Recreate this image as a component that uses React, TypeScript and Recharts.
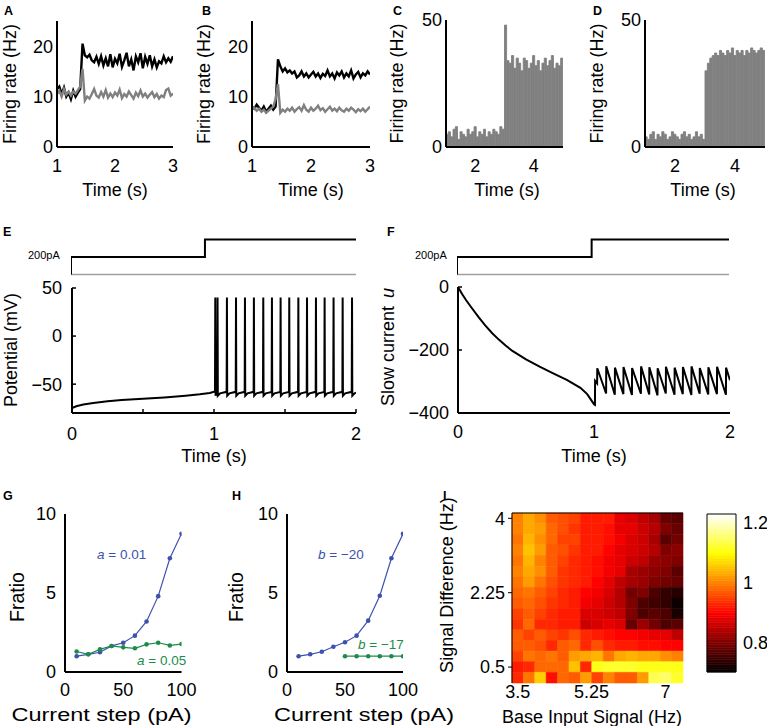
import React from "react";
import {
  LineChart,
  Line,
  BarChart,
  Bar,
  ComposedChart,
  Scatter,
  XAxis,
  YAxis,
  ReferenceLine,
  ReferenceArea,
} from "recharts";

const FONT = "'Liberation Sans', Arial, Helvetica, sans-serif";
const INK = "#000000";
const GRAY = "#808080";
const STIM_GRAY = "#a0a0a0";
const BLUE = "#3e52ad";
const GREEN = "#1e8b4b";

// ---------- A, B: population rate, one sample every 0.04 s from 1 s
const RATE_T0 = 1;
const RATE_DT = 0.04;
const rateA_excited = [
  11.5, 12.0, 10.5, 11.8, 10.0, 10.8, 9.5, 11.2, 10.0, 10.8,
  11.5, 20.5, 18.2, 17.8, 18.3, 17.2, 16.8, 17.9, 16.5, 18.0,
  16.2, 17.6, 16.0, 18.4, 15.8, 17.5, 16.6, 18.5, 15.9, 17.2,
  18.7, 16.0, 17.4, 15.2, 18.0, 16.8, 18.6, 15.6, 17.9, 16.5,
  18.2, 16.0, 17.4, 15.8, 17.0, 16.6, 18.0, 16.8, 17.6, 16.9, 18.0,
];
const rateA_other = [
  10.5, 11.2, 10.0, 11.5, 10.4, 11.0, 10.2, 11.0, 10.6, 11.3,
  12.0, 15.5, 9.2, 10.0, 9.6, 10.5, 11.5, 10.2, 9.8, 10.9,
  10.0, 11.3, 9.8, 10.6, 9.9, 10.8, 10.2, 11.4, 9.7, 10.5,
  10.0, 11.0, 10.3, 9.6, 10.8, 10.1, 11.2, 10.0, 10.6, 9.8,
  10.4, 10.9, 9.9, 10.5, 9.6, 10.2, 9.9, 11.3, 11.6, 10.2, 10.6,
];
const rateB_excited = [
  8.0, 7.6, 8.4, 7.8, 7.2, 8.0, 7.0, 7.6, 8.2, 7.4,
  8.0, 17.4, 16.0, 15.0, 15.6, 14.8, 15.2, 14.6, 15.0, 13.8,
  14.2, 15.0, 14.0, 14.6, 13.8, 14.4, 14.9, 14.0, 14.6, 13.7,
  14.5, 14.1, 15.2, 14.0, 14.6, 13.6, 14.8, 14.2, 15.0, 13.8,
  14.6, 14.0, 15.2, 13.6, 14.4, 14.9, 13.8, 14.6, 14.2, 15.0, 14.4,
];
const rateB_other = [
  7.4, 7.8, 7.2, 7.6, 7.0, 7.4, 6.8, 7.2, 7.6, 8.0,
  9.5, 12.5, 6.8, 7.4, 7.0, 7.6, 7.2, 7.8, 7.0, 7.5,
  7.9, 7.2, 8.3, 7.4, 7.0, 7.8, 7.2, 7.6, 8.2, 7.3,
  7.7, 7.0, 7.5, 8.0, 7.2, 7.6, 7.1, 7.8, 7.3, 7.0,
  7.6, 7.2, 7.8, 7.4, 6.9, 7.5, 7.1, 7.6, 7.0, 7.5, 8.0,
];

// ---------- C, D: histograms, 0.08 s bins from 1 s to 5 s
const PSTH_T0 = 1;
const PSTH_BIN = 0.08;
const psthC = [
  5, 6, 4, 7, 8, 3, 6, 5, 4, 7, 5, 6, 8, 4, 6, 5, 7, 4, 6, 5, 7, 6, 5, 8, 7,
  48, 34, 33, 36, 31, 35, 33, 30, 35, 34, 31, 33, 36, 32, 34, 30, 33, 35, 32, 34, 36, 31, 33, 32, 35,
];
const psthD = [
  4, 3, 5, 6, 3, 5, 4, 6, 5, 3, 4, 6, 5, 4, 3, 5, 6, 4, 5, 3, 4, 6, 4, 5, 3,
  30, 33, 35, 36, 37, 36, 38, 37, 36, 38, 37, 39, 36, 38, 37, 38, 36, 38, 37, 39, 38, 37, 38, 39, 38,
];

// ---------- E, F: current step and neuron response
const stimLevel = [0, 1, 1, 2, 2];
const stimE_t = [0, 0, 0.94, 0.94, 2];
const stimF_t = [0, 0, 0.99, 0.99, 2];

const spikeT = [
  1.007, 1.023, 1.089, 1.153, 1.216, 1.279, 1.345, 1.406, 1.467,
  1.528, 1.592, 1.653, 1.716, 1.777, 1.84, 1.904, 1.97,
];
const vRampT = [0, 0.03, 0.08, 0.15, 0.25, 0.35, 0.5, 0.65, 0.8, 0.9, 0.97, 1.0];
const vRampV = [-75, -73, -71.2, -69.5, -67.8, -66.6, -65.3, -63.8, -62, -60.6, -59.2, -58];
const V_THRESH = -58;
const V_PEAK = 40;
const V_RESET = -62;
const V_RECOVER = -59.5;
const V_END = -59;

const uRampT = [0, 0.03, 0.06, 0.1, 0.15, 0.2, 0.25, 0.3, 0.35, 0.4, 0.5, 0.6, 0.7, 0.8, 0.9, 0.95, 1.0];
const uRampV = [0, -22, -42, -66, -95, -122, -146, -167, -186, -203, -230, -253, -274, -295, -320, -340, -372];
const uTrough = [-374, -306, -338, -342, -340, -343, -339, -341, -344, -338, -342, -340, -343, -339, -341, -340, -342];
const uPeak = [-298, -258, -252, -256, -254, -257, -252, -255, -258, -253, -256, -254, -252, -257, -255, -253, -256];
const U_END = -296;

// ---------- G, H: F ratio vs current step
const currentStep = [10, 20, 30, 40, 50, 60, 70, 80, 90, 100];
const fratioA001 = [1.0, 1.12, 1.25, 1.65, 1.85, 2.3, 3.2, 4.8, 7.2, 8.75];
const fratioA005 = [1.3, 1.12, 1.43, 1.65, 1.56, 1.5, 1.75, 1.85, 1.68, 1.77];
const fratioB20 = [1.0, 1.12, 1.28, 1.6, 1.88, 2.3, 3.25, 4.83, 7.2, 8.75];
const fratioB17 = [null, null, null, null, 1.0, 1.0, 1.0, 1.0, 1.0, 1.0];

// ---------- I: heat map
const baseInput = [3.5, 3.77, 4.04, 4.31, 4.58, 4.85, 5.12, 5.39, 5.66, 5.93, 6.2, 6.47, 6.74, 7.01, 7.28];
const signalDiff = [4, 3.75, 3.5, 3.25, 3, 2.75, 2.5, 2.25, 2, 1.75, 1.5, 1.25, 1, 0.75, 0.5, 0.25];
const ratioGrid = [
  [1.0, 1.03, 1.01, 0.97, 0.96, 0.95, 0.92, 0.92, 0.92, 0.88, 0.87, 0.85, 0.83, 0.78, 0.77],
  [1.0, 1.03, 1.02, 0.98, 0.96, 0.94, 0.92, 0.92, 0.91, 0.88, 0.88, 0.86, 0.84, 0.8, 0.78],
  [0.99, 1.04, 1.01, 0.98, 0.95, 0.95, 0.92, 0.92, 0.91, 0.89, 0.87, 0.86, 0.83, 0.77, 0.79],
  [1.0, 1.05, 1.02, 0.97, 0.96, 0.94, 0.92, 0.92, 0.9, 0.88, 0.87, 0.86, 0.84, 0.8, 0.81],
  [0.99, 1.04, 1.0, 0.97, 0.95, 0.93, 0.92, 0.91, 0.89, 0.88, 0.86, 0.85, 0.82, 0.81, 0.8],
  [1.0, 1.03, 1.01, 0.97, 0.94, 0.93, 0.92, 0.91, 0.89, 0.88, 0.83, 0.82, 0.81, 0.8, 0.77],
  [0.99, 1.02, 0.99, 0.96, 0.94, 0.93, 0.92, 0.9, 0.88, 0.85, 0.83, 0.82, 0.8, 0.79, 0.78],
  [0.98, 0.99, 0.97, 0.95, 0.93, 0.92, 0.9, 0.89, 0.87, 0.84, 0.79, 0.8, 0.76, 0.74, 0.73],
  [0.97, 0.98, 0.96, 0.94, 0.93, 0.92, 0.89, 0.88, 0.86, 0.84, 0.8, 0.76, 0.75, 0.74, 0.71],
  [0.95, 0.97, 0.95, 0.93, 0.92, 0.92, 0.87, 0.87, 0.86, 0.85, 0.8, 0.76, 0.77, 0.76, 0.72],
  [0.94, 0.98, 0.93, 0.93, 0.92, 0.92, 0.86, 0.87, 0.88, 0.87, 0.78, 0.82, 0.79, 0.76, 0.77],
  [0.97, 0.95, 0.97, 0.95, 0.94, 0.96, 0.93, 0.92, 0.91, 0.9, 0.9, 0.89, 0.88, 0.88, 0.85],
  [0.97, 0.97, 0.96, 0.93, 0.97, 0.98, 0.93, 0.96, 0.93, 0.92, 0.92, 0.91, 0.91, 0.9, 0.9],
  [0.95, 0.99, 0.98, 0.99, 0.97, 1.02, 1.03, 1.04, 0.99, 1.03, 1.04, 1.03, 1.03, 1.01, 1.0],
  [0.92, 0.93, 0.98, 0.98, 0.98, 1.05, 0.93, 1.11, 1.12, 1.12, 1.12, 1.11, 1.11, 1.11, 1.11],
  [0.93, 0.99, 1.06, 0.91, 0.98, 0.97, 1.02, 0.95, 1.0, 0.97, 0.97, 1.02, 1.14, 1.15, 1.12],
];
const CMIN = 0.7;
const CMAX = 1.23;
const colorTicks = [0.8, 1, 1.2];

// ---------- derived rows
const rateRows = (excited: number[], other: number[]) =>
  excited.map((v, i) => ({ t: RATE_T0 + i * RATE_DT, excited: v, other: other[i] }));
const psthRows = (vals: number[]) => vals.map((v, i) => ({ t: PSTH_T0 + (i + 0.5) * PSTH_BIN, rate: v }));
const stimRows = (ts: number[]) => ts.map((t, i) => ({ t, level: stimLevel[i] }));

const vTrace: { t: number; v: number }[] = vRampT.map((t, i) => ({ t, v: vRampV[i] }));
spikeT.forEach((s, k) => {
  vTrace.push({ t: s, v: V_THRESH }, { t: s + 0.002, v: V_PEAK }, { t: s + 0.004, v: V_RESET });
  const next = spikeT[k + 1] ?? 2;
  if (next - s > 0.03) vTrace.push({ t: s + 0.02, v: V_RECOVER });
});
vTrace.push({ t: 2, v: V_END });

const uTrace: { t: number; u: number }[] = uRampT.map((t, i) => ({ t, u: uRampV[i] }));
spikeT.forEach((s, k) => {
  uTrace.push({ t: s, u: uTrough[k] }, { t: s + 0.001, u: uPeak[k] });
});
uTrace.push({ t: 2, u: U_END });

const gRows = currentStep.map((x, i) => ({ x, low: fratioA001[i], high: fratioA005[i] }));
const hRows = currentStep.map((x, i) => ({ x, low: fratioB20[i], high: fratioB17[i] }));

const cells = signalDiff.flatMap((y, r) => baseInput.map((x, c) => ({ x, y, v: ratioGrid[r][c] })));
const HALF_X = (baseInput[1] - baseInput[0]) / 2;
const HALF_Y = (signalDiff[0] - signalDiff[1]) / 2;

const clamp01 = (x: number) => Math.max(0, Math.min(1, x));
function hot(v: number) {
  const t = clamp01((v - CMIN) / (CMAX - CMIN));
  const h = (c: number) => Math.round(clamp01(c) * 255).toString(16).padStart(2, "0");
  return `#${h(t / 0.375)}${h((t - 0.375) / 0.375)}${h((t - 0.75) / 0.25)}`;
}
// colour bar strips: the colormap itself, 64 levels
const BAR_STEPS = 64;
const barStrips = Array.from({ length: BAR_STEPS }, (_, i) => {
  const lo = CMIN + ((CMAX - CMIN) * i) / BAR_STEPS;
  const hi = CMIN + ((CMAX - CMIN) * (i + 1)) / BAR_STEPS;
  return { lo, hi, color: hot((lo + hi) / 2) };
});
const barFrame = [{ x: 0, y: CMIN }, { x: 1, y: CMAX }];

// ---------- layout helpers
type Geo = { x0: number; y0: number; x1: number; y1: number; l: number; t: number; r: number; b: number };
const geo = (x0: number, y0: number, x1: number, y1: number, l = 90, t = 12, r = 14, b = 64): Geo => ({
  x0, y0, x1, y1, l, t, r, b,
});
const chartW = (g: Geo) => g.x1 - g.x0 + g.l + g.r;
const chartH = (g: Geo) => g.y1 - g.y0 + g.t + g.b;
const at = (g: Geo): React.CSSProperties => ({ position: "absolute", left: g.x0 - g.l, top: g.y0 - g.t });
const axisMargin = (g: Geo) => ({ top: g.t, right: g.r, left: 0, bottom: 0 });
const bareMargin = (g: Geo) => ({ top: g.t, right: g.r, left: g.l, bottom: g.b });

const tickFont = (size = 18) => ({ fill: INK, fontSize: size, fontFamily: FONT });
const THICK = { stroke: INK, strokeWidth: 2 };
const minus = (v: number) => String(v).replace("-", "\u2212");

function yTitle(g: Geo, cx: number, cy: number, body: React.ReactNode, size = 18, len?: number) {
  return () => {
    const x = cx - (g.x0 - g.l);
    const y = cy - (g.y0 - g.t);
    return (
      <text x={x} y={y} transform={`rotate(-90 ${x} ${y})`} textAnchor="middle" dominantBaseline="central"
        textLength={len} lengthAdjust={len ? "spacingAndGlyphs" : undefined}
        style={{ fontFamily: FONT, fontSize: size, fill: INK }}>
        {body}
      </text>
    );
  };
}
function xTitle(g: Geo, cx: number, cy: number, body: React.ReactNode, size = 18, len?: number) {
  return () => (
    <text x={cx - (g.x0 - g.l)} y={cy - (g.y0 - g.t)} textAnchor="middle" dominantBaseline="central"
      textLength={len} lengthAdjust={len ? "spacingAndGlyphs" : undefined}
      style={{ fontFamily: FONT, fontSize: size, fill: INK }}>
      {body}
    </text>
  );
}

const Note = ({ x, y, size = 13, bold = false, color = INK, children }: {
  x: number; y: number; size?: number; bold?: boolean; color?: string; children: React.ReactNode;
}) => (
  <div style={{
    position: "absolute", left: x, top: y, fontSize: size, lineHeight: `${size}px`,
    fontWeight: bold ? 700 : 400, color, fontFamily: FONT, whiteSpace: "nowrap",
  }}>
    {children}
  </div>
);

// ---------- panels
function RatePanel({ g, rows, yx, xx }: { g: Geo; rows: any[]; yx: number; xx: number }) {
  return (
    <div style={at(g)}>
      <LineChart width={chartW(g)} height={chartH(g)} margin={axisMargin(g)} data={rows}>
        <XAxis type="number" dataKey="t" domain={[1, 3]} ticks={[1, 2, 3]} allowDataOverflow interval={0}
          axisLine={THICK} tickLine={false} tickSize={0} tickMargin={12} tick={tickFont()} height={g.b}
          label={xTitle(g, xx, 190, "Time (s)")} />
        <YAxis type="number" domain={[0, 25]} ticks={[0, 10, 20]} allowDataOverflow interval={0}
          axisLine={THICK} tickLine={false} tickSize={0} tickMargin={4} tick={tickFont()} width={g.l}
          label={yTitle(g, yx, (g.y0 + g.y1) / 2, "Firing rate (Hz)")} />
        <Line dataKey="excited" type="linear" stroke={INK} strokeWidth={2.4} dot={false} isAnimationActive={false} />
        <Line dataKey="other" type="linear" stroke={GRAY} strokeWidth={2.4} dot={false} isAnimationActive={false} />
      </LineChart>
    </div>
  );
}

function PsthPanel({ g, rows, yx, xx }: { g: Geo; rows: any[]; yx: number; xx: number }) {
  const barPx = ((g.x1 - g.x0) / 4) * PSTH_BIN + 0.5;
  return (
    <div style={at(g)}>
      <BarChart width={chartW(g)} height={chartH(g)} margin={axisMargin(g)} data={rows} barCategoryGap={0} barGap={0}>
        <XAxis type="number" dataKey="t" domain={[1, 5]} ticks={[2, 4]} allowDataOverflow interval={0}
          axisLine={THICK} tickLine={false} tickSize={0} tickMargin={12} tick={tickFont()} height={g.b}
          label={xTitle(g, xx, 190, "Time (s)")} />
        <YAxis type="number" domain={[0, 50]} ticks={[0, 50]} allowDataOverflow interval={0}
          axisLine={THICK} tickLine={false} tickSize={0} tickMargin={4} tick={tickFont()} width={g.l}
          label={yTitle(g, yx, (g.y0 + g.y1) / 2, "Firing rate (Hz)")} />
        <Bar dataKey="rate" fill={GRAY} stroke={GRAY} strokeWidth={0.9} barSize={barPx} isAnimationActive={false} />
      </BarChart>
    </div>
  );
}

function StimPanel({ g, rows }: { g: Geo; rows: any[] }) {
  return (
    <div style={at(g)}>
      <LineChart width={chartW(g)} height={chartH(g)} margin={bareMargin(g)} data={rows}>
        <XAxis type="number" dataKey="t" domain={[0, 2]} hide allowDataOverflow />
        <YAxis type="number" domain={[-0.2, 2.2]} hide allowDataOverflow />
        <ReferenceLine y={0} stroke={STIM_GRAY} strokeWidth={1.6} />
        <Line dataKey="level" type="linear" stroke={INK} strokeWidth={2} dot={false} isAnimationActive={false} />
      </LineChart>
    </div>
  );
}

function FratioPanel({ g, rows, yx, xx }: { g: Geo; rows: any[]; yx: number; xx: number }) {
  return (
    <div style={at(g)}>
      <LineChart width={chartW(g)} height={chartH(g)} margin={axisMargin(g)} data={rows}>
        <XAxis type="number" dataKey="x" domain={[0, 100]} ticks={[0, 50, 100]} allowDataOverflow interval={0}
          axisLine={THICK} tickLine={false} tickSize={0} tickMargin={11} tick={tickFont()} height={g.b}
          label={xTitle(g, xx, 715, "Current step (pA)", 18, 180)} />
        <YAxis type="number" domain={[0, 10]} ticks={[0, 5, 10]} allowDataOverflow interval={0}
          axisLine={THICK} tickLine={false} tickSize={0} tickMargin={9} tick={tickFont()} width={g.l}
          label={yTitle(g, yx, 597, "Fratio", 21, 50)} />
        <Line dataKey="low" type="linear" stroke={BLUE} strokeWidth={1.2} isAnimationActive={false}
          dot={{ r: 2.3, fill: BLUE, stroke: BLUE, strokeWidth: 0 }} />
        <Line dataKey="high" type="linear" stroke={GREEN} strokeWidth={1.2} isAnimationActive={false}
          dot={{ r: 2.3, fill: GREEN, stroke: GREEN, strokeWidth: 0 }} />
      </LineChart>
    </div>
  );
}

const gA = geo(57, 21, 173, 147);
const gB = geo(252, 21, 370, 147);
const gC = geo(446, 20, 563, 147);
const gD = geo(645, 20, 765, 147);
const gEs = geo(71, 235.5, 356, 277.5, 10, 6, 6, 6);
const gE = geo(72, 288, 356, 413);
const gFs = geo(457, 235.5, 729, 277.5, 10, 6, 6, 6);
const gF = geo(458, 287, 730, 413);
const gG = geo(64.5, 514, 181, 672, 90, 12, 40, 64);
const gH = geo(287, 514, 403, 672, 90, 12, 70, 64);
const gI = geo(512, 513, 683, 683, 90, 40, 14, 64);
const gBar = geo(707, 514, 736, 672, 6, 6, 40, 6);

export default function App() {
  return (
    <div style={{
      position: "absolute", left: 0, top: 0, width: 767, height: 726,
      overflow: "hidden", background: "#fff", fontFamily: FONT,
    }}>
      <RatePanel g={gA} rows={rateRows(rateA_excited, rateA_other)} yx={10} xx={115} />
      <RatePanel g={gB} rows={rateRows(rateB_excited, rateB_other)} yx={204} xx={311} />
      <PsthPanel g={gC} rows={psthRows(psthC)} yx={397} xx={507} />
      <PsthPanel g={gD} rows={psthRows(psthD)} yx={597} xx={703} />

      <StimPanel g={gEs} rows={stimRows(stimE_t)} />
      <div style={at(gE)}>
        <LineChart width={chartW(gE)} height={chartH(gE)} margin={axisMargin(gE)} data={vTrace}>
          <XAxis type="number" dataKey="t" domain={[0, 2]} ticks={[0, 0.5, 1, 1.5, 2]} allowDataOverflow interval={0}
            tickFormatter={(v: number) => (Number.isInteger(v) ? String(v) : "")}
            axisLine={THICK} tickLine={{ stroke: INK, strokeWidth: 1.5 }} tickSize={-4} tickMargin={18}
            tick={tickFont()} height={gE.b} label={xTitle(gE, 214, 456, "Time (s)")} />
          <YAxis type="number" domain={[-80, 50]} ticks={[-50, 0, 50]} allowDataOverflow interval={0}
            tickFormatter={minus} axisLine={THICK} tickLine={{ stroke: INK, strokeWidth: 1.5 }} tickSize={-4}
            tickMargin={14} tick={tickFont()} width={gE.l}
            label={yTitle(gE, 11, 350, "Potential (mV)")} />
          <Line dataKey="v" type="linear" stroke={INK} strokeWidth={2} dot={false} isAnimationActive={false} />
        </LineChart>
      </div>

      <StimPanel g={gFs} rows={stimRows(stimF_t)} />
      <div style={at(gF)}>
        <LineChart width={chartW(gF)} height={chartH(gF)} margin={axisMargin(gF)} data={uTrace}>
          <XAxis type="number" dataKey="t" domain={[0, 2]} ticks={[0, 1, 2]} allowDataOverflow interval={0}
            axisLine={THICK} tickLine={false} tickSize={0} tickMargin={12} tick={tickFont()} height={gF.b}
            label={xTitle(gF, 594, 456, "Time (s)")} />
          <YAxis type="number" domain={[-400, 0]} ticks={[-400, -200, 0]} allowDataOverflow interval={0}
            tickFormatter={minus} axisLine={THICK} tickLine={{ stroke: INK, strokeWidth: 1.5 }} tickSize={-4}
            tickMargin={13} tick={tickFont()} width={gF.l}
            label={yTitle(gF, 388, 347, (
              <>
                <tspan>Slow current</tspan>
                <tspan dx={8} fontStyle="italic">u</tspan>
              </>
            ))} />
          <Line dataKey="u" type="linear" stroke={INK} strokeWidth={2} dot={false} isAnimationActive={false} />
        </LineChart>
      </div>

      <FratioPanel g={gG} rows={gRows} yx={16} xx={101} />
      <FratioPanel g={gH} rows={hRows} yx={235} xx={364} />

      <div style={at(gI)}>
        <ComposedChart width={chartW(gI)} height={chartH(gI)} margin={axisMargin(gI)} data={cells}>
          <XAxis type="number" dataKey="x" domain={[baseInput[0] - HALF_X, baseInput[baseInput.length - 1] + HALF_X]}
            ticks={[3.5, 5.25, 7]} allowDataOverflow interval={0} axisLine={false} tickLine={false} tickSize={0}
            tickMargin={2} tick={tickFont()} height={gI.b}
            label={xTitle(gI, 592, 717, "Base Input Signal (Hz)")} />
          <YAxis type="number" dataKey="y" domain={[signalDiff[signalDiff.length - 1] - HALF_Y, signalDiff[0] + HALF_Y]}
            ticks={[0.5, 2.25, 4]} allowDataOverflow interval={0} axisLine={{ stroke: INK, strokeWidth: 1 }}
            tickLine={{ stroke: INK, strokeWidth: 1 }} tickSize={4} tickMargin={3} tick={tickFont()} width={gI.l}
            label={yTitle(gI, 447, 585, "Signal Difference (Hz)")} />
          {cells.map((c, k) => (
            <ReferenceArea key={k} x1={c.x - HALF_X} x2={c.x + HALF_X} y1={c.y - HALF_Y} y2={c.y + HALF_Y}
              fill={hot(c.v)} fillOpacity={1} stroke={hot(c.v)} strokeWidth={0.6} />
          ))}
          <ReferenceLine y={signalDiff[0] + HALF_Y} stroke={INK} strokeWidth={1} />
          <Scatter dataKey="y" shape={() => <g />} isAnimationActive={false} />
        </ComposedChart>
      </div>

      <div style={at(gBar)}>
        <ComposedChart width={chartW(gBar)} height={chartH(gBar)} data={barFrame}
          margin={{ top: gBar.t, right: 0, left: gBar.l, bottom: gBar.b }}>
          <XAxis type="number" dataKey="x" domain={[0, 1]} hide allowDataOverflow />
          <YAxis orientation="right" type="number" dataKey="y" domain={[CMIN, CMAX]} ticks={colorTicks} allowDataOverflow
            interval={0} axisLine={false} tickLine={false} tickSize={0} tickMargin={7} tick={tickFont()} width={gBar.r} />
          {barStrips.map((s, k) => (
            <ReferenceArea key={k} x1={0} x2={1} y1={s.lo} y2={s.hi} fill={s.color} fillOpacity={1}
              stroke={s.color} strokeWidth={0.6} />
          ))}
          <ReferenceArea x1={0} x2={1} y1={CMIN} y2={CMAX} fill="none" fillOpacity={0} stroke={INK} strokeWidth={1} />
          <Scatter dataKey="y" shape={() => <g />} isAnimationActive={false} />
        </ComposedChart>
      </div>

      <Note x={4} y={5} size={12.5} bold>A</Note>
      <Note x={202} y={5} size={12.5} bold>B</Note>
      <Note x={393} y={5} size={12.5} bold>C</Note>
      <Note x={593} y={5} size={12.5} bold>D</Note>
      <Note x={3} y={226} size={12.5} bold>E</Note>
      <Note x={387} y={226} size={12.5} bold>F</Note>
      <Note x={3} y={490} size={12.5} bold>G</Note>
      <Note x={232} y={490} size={12.5} bold>H</Note>
      <Note x={443} y={490} size={12.5} bold>I</Note>

      <Note x={28} y={250} size={11}>200pA</Note>
      <Note x={415} y={250} size={11}>200pA</Note>

      <Note x={97} y={548} size={13.5} color={BLUE}><i>a</i> = 0.01</Note>
      <Note x={137} y={654} size={13.5} color={GREEN}><i>a</i> = 0.05</Note>
      <Note x={318} y={548} size={13.5} color={BLUE}><i>b</i> = {"\u2212"}20</Note>
      <Note x={358} y={638} size={13.5} color={GREEN}><i>b</i> = {"\u2212"}17</Note>
    </div>
  );
}
